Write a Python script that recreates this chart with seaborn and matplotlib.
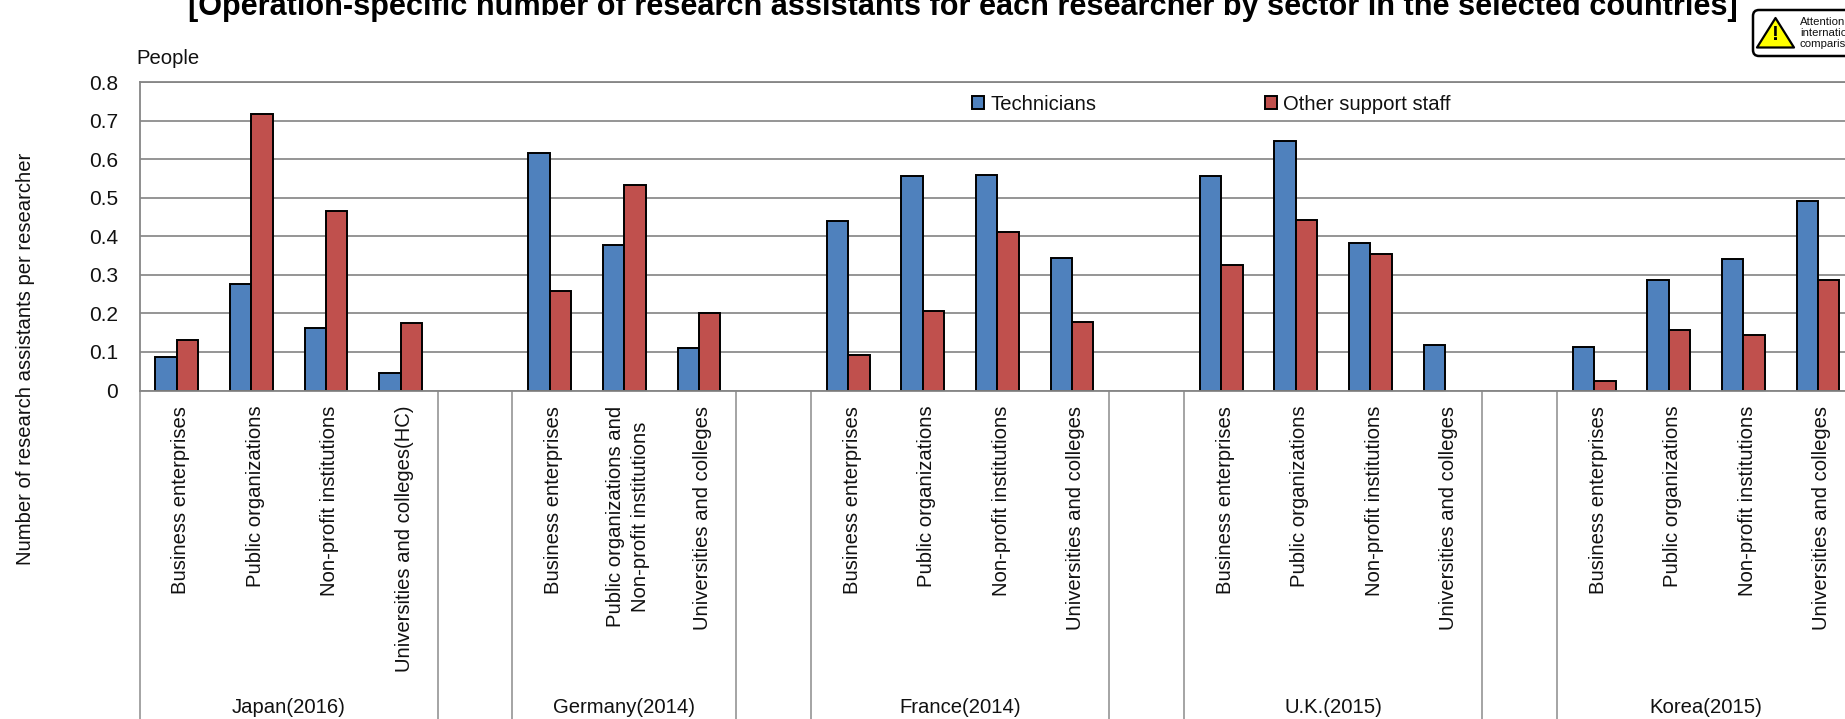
import matplotlib
matplotlib.use("Agg")
import matplotlib.pyplot as plt
from matplotlib.patches import FancyBboxPatch, Polygon
from matplotlib.transforms import ScaledTranslation
import pandas as pd
import seaborn as sns

groups = ["Japan(2016)", "Germany(2014)", "France(2014)", "U.K.(2015)", "Korea(2015)"]
sectors_japan = ["Business enterprises", "Public organizations", "Non-profit institutions", "Universities and colleges(HC)"]
sectors_germany = ["Business enterprises", "Public organizations and\nNon-profit institutions", "Universities and colleges"]
sectors_other = ["Business enterprises", "Public organizations", "Non-profit institutions", "Universities and colleges"]
group_sectors = [sectors_japan, sectors_germany, sectors_other, sectors_other, sectors_other]

technicians = [[0.087, 0.275, 0.163, 0.046],
               [0.617, 0.378, 0.110],
               [0.440, 0.556, 0.560, 0.343],
               [0.556, 0.648, 0.382, 0.117],
               [0.112, 0.286, 0.341, 0.491]]
other_support = [[0.130, 0.717, 0.466, 0.175],
                 [0.258, 0.532, 0.202],
                 [0.093, 0.205, 0.410, 0.178],
                 [0.325, 0.442, 0.354, None],
                 [0.025, 0.156, 0.145, 0.286]]
series_names = ["Technicians", "Other support staff"]
colors = ["#4F81BD", "#C0504D"]
yticks = [0, 0.1, 0.2, 0.3, 0.4, 0.5, 0.6, 0.7, 0.8]
ytick_labels = ["0", "0.1", "0.2", "0.3", "0.4", "0.5", "0.6", "0.7", "0.8"]

W, H = 1845, 719
sns.set_theme(style="white")
plt.rcParams["font.family"] = ["Liberation Sans", "DejaVu Sans"]
TEXT = "#111111"

rows, order, tick_labels, boundaries, centers = [], [], [], [-0.5], []
pos = 0
for gi, g in enumerate(groups):
    start = pos
    for si, s in enumerate(group_sectors[gi]):
        key = f"{gi}-{si}"
        order.append(key)
        tick_labels.append(s)
        rows.append({"key": key, "series": series_names[0], "value": technicians[gi][si]})
        rows.append({"key": key, "series": series_names[1], "value": other_support[gi][si]})
        pos += 1
    boundaries.append(pos - 0.5)
    centers.append((start + pos - 1) / 2)
    if gi < len(groups) - 1:
        order.append(f"gap{gi}")
        tick_labels.append("")
        pos += 1
        boundaries.append(pos - 0.5)
df = pd.DataFrame(rows)
df["value"] = pd.to_numeric(df["value"])

fig = plt.figure(figsize=(W / 100, H / 100), dpi=100, facecolor="white")
left, right, top, bottom = 139.5, 139.5 + 23 * 74.6, 82, 390.5
ax = fig.add_axes([left / W, 1 - bottom / H, (right - left) / W, (bottom - top) / H])

sns.barplot(data=df, x="key", y="value", hue="series", order=order,
            hue_order=series_names, palette=colors, width=0.576,
            edgecolor="black", linewidth=1.4, saturation=1, ax=ax, legend=True)

ax.set_xlim(-0.5, len(order) - 0.5)
ax.set_ylim(0, 0.8)
ax.set_yticks(yticks, ytick_labels, fontsize=15, color=TEXT)
ax.set_xticks(range(len(order)), tick_labels, rotation=90, fontsize=14.6, color=TEXT,
              linespacing=1.4, ma="center")
ax.tick_params(axis="x", length=0, pad=11)
ax.tick_params(axis="y", length=0, pad=15.5)
shift = ScaledTranslation(4 / 100, 0, fig.dpi_scale_trans)
for lab in ax.get_xticklabels():
    lab.set_transform(lab.get_transform() + shift)
ax.set_xlabel("")
ax.set_ylabel("")
ax.set_axisbelow(True)
ax.grid(axis="y", color="#8C8C8C", linewidth=1.3)
for side in ax.spines:
    ax.spines[side].set_color("#868686")
    ax.spines[side].set_linewidth(1.3)

xform = ax.get_xaxis_transform()
for b in boundaries:
    ax.plot([b, b], [0, -(H - bottom) / (bottom - top)], transform=xform,
            color="#8C8C8C", lw=1.1, clip_on=False)
for c, g in zip(centers, groups):
    ax.text(c, -(707 - bottom) / (bottom - top), g, transform=xform, ha="center",
            va="center", fontsize=14.6, color=TEXT)

handles, labels = ax.get_legend_handles_labels()
ax.get_legend().remove()
fig.legend(handles, labels, loc="center left", bbox_to_anchor=(961.5 / W, 1 - 104 / H),
           ncols=2, frameon=False, fontsize=14.6, handlelength=0.62, handleheight=0.62,
           handletextpad=0.3, columnspacing=8.3, borderpad=0, labelcolor=TEXT)

ov = fig.add_axes([0, 0, 1, 1], facecolor="none")
ov.set_xlim(0, W)
ov.set_ylim(H, 0)
ov.axis("off")
ov.text(962.5, 7, "[Operation-specific number of research assistants for each researcher by sector in the selected countries]",
        ha="center", va="center", fontsize=22.1, fontweight="bold", color="black")
ov.text(136, 58, "People", ha="left", va="center", fontsize=14.6, color=TEXT)
ov.text(26, 359, "Number of research assistants per researcher", rotation=90,
        ha="center", va="center", fontsize=14.6, color=TEXT)
ov.add_patch(FancyBboxPatch((1753, 10), 125, 46, boxstyle="round,pad=0,rounding_size=6",
                            fc="white", ec="black", lw=1.8))
ov.add_patch(Polygon([(1757, 47.5), (1775.5, 18), (1794, 47.5)], closed=True, fc="#FFFF00",
                     ec="black", lw=1.6, joinstyle="round"))
ov.text(1775.5, 35, "!", ha="center", va="center", fontsize=15, fontweight="bold", color="black")
ov.text(1800, 33, "Attention\ninternational\ncomparison", ha="left", va="center", fontsize=8.2,
        linespacing=1.15, color=TEXT, ma="left")

fig.savefig("out.png", dpi=100)
